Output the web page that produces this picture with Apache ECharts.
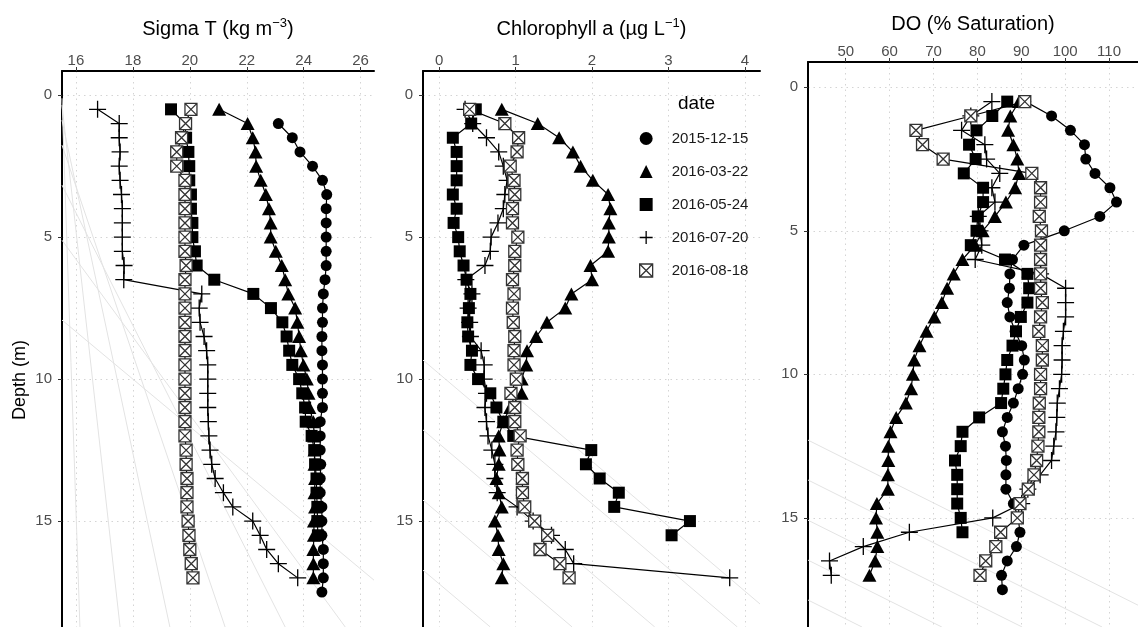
<!DOCTYPE html>
<html>
<head>
<meta charset="utf-8">
<script src="https://cdn.jsdelivr.net/npm/echarts@6/dist/echarts.min.js"></script>
<style>
html,body{margin:0;padding:0;background:#fff;}
#chart{width:1138px;height:627px;}
</style>
</head>
<body>
<div id="chart"></div>
<script>
// ---------------- DATA ----------------
const depth = [0.5,1,1.5,2,2.5,3,3.5,4,4.5,5,5.5,6,6.5,7,7.5,8,8.5,9,9.5,10,10.5,11,11.5,12,12.5,13,13.5,14,14.5,15,15.5,16,16.5,17,17.5];
const dates = ['2015-12-15','2016-03-22','2016-05-24','2016-07-20','2016-08-18'];

const panelTitles = ['Sigma T (kg m{sup|−3})', 'Chlorophyll a (µg L{sup|−1})', 'DO (% Saturation)'];
const xTicks1 = [16,18,20,22,24,26];
const xTicks2 = [0,1,2,3,4];
const xTicks3 = [50,60,70,80,90,100,110];
const yTicks = [0,5,10,15];

// Sigma T
const sigDec = [null,23.11,23.6,23.87,24.31,24.66,24.81,24.79,24.79,24.79,24.79,24.79,24.75,24.69,24.66,24.66,24.64,24.64,24.66,24.66,24.66,24.66,24.58,24.58,24.58,24.6,24.58,24.58,24.64,24.64,24.64,24.69,24.69,24.69,24.64];
const sigMar = [21.03,22.03,22.21,22.31,22.33,22.49,22.67,22.78,22.84,22.84,23.02,23.23,23.35,23.46,23.7,23.78,23.84,23.9,23.99,24.11,24.17,24.2,24.34,24.37,24.38,24.38,24.4,24.38,24.4,24.36,24.36,24.34,24.34,24.34,null];
const sigMay = [19.34,19.83,19.87,19.95,19.98,19.98,20.04,20.04,20.09,20.09,20.18,20.24,20.86,22.23,22.85,23.25,23.4,23.49,23.6,23.84,23.95,24.05,24.07,24.28,24.37,24.4,24.45,24.45,24.48,24.48,24.5,null,null,null,null];
const sigJul = [16.76,17.52,17.52,17.55,17.52,17.55,17.6,17.63,17.63,17.63,17.63,17.69,17.68,20.42,20.33,20.36,20.5,20.59,20.63,20.63,20.63,20.63,20.65,20.67,20.71,20.77,20.89,21.18,21.51,22.21,22.47,22.7,23.11,23.79,null];
const sigAug = [20.04,19.85,19.71,19.54,19.54,19.83,19.83,19.83,19.83,19.83,19.83,19.87,19.83,19.83,19.83,19.83,19.83,19.83,19.83,19.83,19.83,19.83,19.83,19.83,19.87,19.87,19.9,19.9,19.9,19.94,19.97,20.0,20.05,20.11,null];

// Chlorophyll a
const chlDec = [];
const chlMar = [0.82,1.29,1.57,1.75,1.85,2.01,2.21,2.24,2.22,2.22,2.21,1.98,2.0,1.73,1.65,1.41,1.27,1.15,1.14,1.08,1.08,0.93,0.84,0.78,0.79,0.78,0.75,0.78,0.82,0.73,0.77,0.78,0.84,0.82,null];
const chlMay = [0.48,0.42,0.18,0.23,0.23,0.23,0.18,0.23,0.19,0.25,0.27,0.32,0.36,0.41,0.39,0.37,0.38,0.43,0.41,0.51,0.67,0.75,0.84,0.97,1.99,1.92,2.1,2.35,2.29,3.28,3.04,null,null,null,null];
const chlJul = [0.34,0.44,0.62,0.78,0.84,0.89,0.86,0.84,0.77,0.68,0.67,0.6,0.35,0.43,0.38,0.4,0.41,0.55,0.59,0.59,0.62,0.6,0.62,0.64,0.69,0.73,0.73,0.76,1.02,1.23,1.47,1.65,1.76,3.8,null];
const chlAug = [0.40,0.86,1.04,1.02,0.93,0.98,0.99,0.96,0.96,1.03,0.99,0.99,0.96,0.98,0.96,0.97,0.99,0.98,0.98,1.01,0.94,0.99,0.99,1.06,1.02,1.03,1.09,1.09,1.12,1.25,1.42,1.32,1.58,1.7,null];

// DO (% saturation)
const doDec = [91,96.9,101.2,104.4,104.7,106.8,110.2,111.7,107.9,99.8,90.6,88.0,87.4,87.3,86.8,87.4,88.6,90.1,90.7,90.3,89.3,88.2,86.8,85.7,86.4,86.6,86.5,86.5,88.2,89.3,89.7,88.9,86.8,85.5,85.7];
const doMar = [89.5,87.5,87.0,88.2,89.1,89.5,88.6,86.5,84.0,81.2,79.5,76.6,74.6,73.1,71.9,70.2,68.4,66.8,65.6,65.3,64.9,63.7,61.5,60.2,59.7,59.7,59.6,59.6,57.1,56.9,57.2,57.2,56.7,55.4,null];
const doMay = [86.8,83.4,79.8,78.1,79.6,76.9,81.3,81.3,80.1,79.8,78.5,86.3,91.4,91.8,91.4,89.9,88.8,88.0,86.8,86.4,85.9,85.4,80.4,76.6,76.2,74.9,75.4,75.4,75.4,76.2,76.6,null,null,null,null];
const doJul = [83.3,78.5,76.4,81.7,82.1,85.1,83.3,84.0,80.2,80.6,81.0,79.5,94.4,100.1,100.1,100.1,99.6,99.3,99.3,99.2,98.7,98.2,98.1,97.9,97.4,96.9,94.3,91.5,90.1,83.5,64.5,54.0,46.3,46.7,null];
const doAug = [90.8,78.5,66.0,67.5,72.2,92.4,94.4,94.4,94.1,94.6,94.4,94.4,94.4,94.4,94.8,94.4,94.0,94.8,94.8,94.4,94.4,94.1,94.0,94.0,93.8,93.5,92.9,91.6,89.7,89.1,85.3,84.2,81.9,80.6,null];

// faint background guide lines [x1, depth1, x2, depth2]
const guides1 = [[15.51,0.11,16.14,18.73],[15.51,0.35,17.55,18.73],[15.51,0.88,19.30,18.73],[15.51,1.76,21.24,18.73],[15.51,3.17,23.35,18.73],[15.51,5.11,25.46,18.73],[15.51,7.92,26.47,17.08]];
const guides2 = [[-0.21,9.33,3.90,18.73],[-0.21,11.79,2.82,18.73],[-0.21,14.26,1.74,18.73],[-0.21,16.73,0.67,18.73],[1.06,10.74,4.196,17.92]];
const guides3 = [[41.4,12.29,116.6,18.04],[41.4,13.68,108.4,18.8],[41.4,15.08,90.2,18.8],[41.4,16.47,71.9,18.8],[41.4,17.86,53.7,18.8]];

// ---------------- CHART ----------------
const panels = [
  {vals:[sigDec,sigMar,sigMay,sigJul,sigAug], xmin:15.51, xmax:26.47, ticks:xTicks1, guides:guides1,
   grid:{left:62, top:71, width:312, height:556}, ymin:-0.85, ymax:18.73, nameGap:30},
  {vals:[chlDec,chlMar,chlMay,chlJul,chlAug], xmin:-0.21, xmax:4.196, ticks:xTicks2, guides:guides2,
   grid:{left:423, top:71, width:337, height:556}, ymin:-0.85, ymax:18.73, nameGap:30},
  {vals:[doDec,doMar,doMay,doJul,doAug], xmin:41.4, xmax:116.6, ticks:xTicks3, guides:guides3,
   grid:{left:808, top:62, width:330, height:565}, ymin:-0.88, ymax:18.8, nameGap:26}
];

const sym = [
  {symbol:'circle', size:11, style:{color:'#000'}},
  {symbol:'triangle', size:[14,13], style:{color:'#000'}},
  {symbol:'rect', size:12, style:{color:'#000'}},
  {symbol:'path://M0,8H16M8,0V16', size:17, style:{color:'#000', borderColor:'#000', borderWidth:1.3}},
  {symbol:'path://M0,0H12V12H0Z M0,0L12,12 M12,0L0,12', size:12, style:{color:'#fff', borderColor:'#333', borderWidth:1.3}}
];

function pairs(vals){
  const out = [];
  depth.forEach((d,i)=>{ if (vals[i] != null) out.push([vals[i], d]); });
  return out;
}

const grids=[], xAxes=[], yAxes=[], series=[];
const txt = '#4d4d4d';
panels.forEach((p,pi)=>{
  grids.push(Object.assign({outerBoundsMode:'none', containLabel:false}, p.grid));
  xAxes.push({
    type:'value', gridIndex:pi, position:'top', min:p.xmin, max:p.xmax,
    name: panelTitles[pi], nameLocation:'middle', nameGap:p.nameGap,
    nameTextStyle:{fontFamily:'Liberation Sans', fontSize:20, color:'#000', lineHeight:24,
      rich:{sup:{fontFamily:'Liberation Sans', fontSize:13, color:'#000', verticalAlign:'top', lineHeight:24}}},
    axisLine:{show:true, onZero:false, lineStyle:{color:'#000', width:2}},
    axisTick:{show:true, inside:false, length:4, customValues:p.ticks, lineStyle:{color:'#333', width:1}},
    axisLabel:{show:true, customValues:p.ticks, margin:3, fontFamily:'Liberation Sans', fontSize:15, color:txt},
    splitLine:{show:true, lineStyle:{color:'#d4d4d4', type:[1.5,4], width:1}}
  });
  yAxes.push({
    type:'value', gridIndex:pi, inverse:true, min:p.ymin, max:p.ymax,
    axisLine:{show:true, onZero:false, lineStyle:{color:'#000', width:2}},
    axisTick:{show:true, inside:false, length:4, customValues:yTicks, lineStyle:{color:'#333', width:1}},
    axisLabel:{show:true, customValues:yTicks, margin:10, fontFamily:'Liberation Sans', fontSize:15, color:txt},
    splitLine:{show:true, lineStyle:{color:'#d4d4d4', type:[1.5,4], width:1}}
  });
  series.push({
    type:'lines', coordinateSystem:'cartesian2d', xAxisIndex:pi, yAxisIndex:pi, silent:true, z:1,
    lineStyle:{color:'#e3e3e3', width:1, opacity:1},
    data: p.guides.map(g=>({coords:[[g[0],g[1]],[g[2],g[3]]]}))
  });
  p.vals.forEach((v,si)=>{
    series.push({
      type:'line', name:dates[si], xAxisIndex:pi, yAxisIndex:pi,
      data: pairs(v), symbol:sym[si].symbol, symbolSize:sym[si].size, showAllSymbol:true,
      lineStyle:{color:'#000', width:1.2}, itemStyle:sym[si].style, z:3+si,
      emphasis:{disabled:true}, clip:true
    });
  });
});

const chart = echarts.init(document.getElementById('chart'), null, {renderer:'canvas'});
chart.setOption({
  animation:false,
  backgroundColor:'#fff',
  grid:grids, xAxis:xAxes, yAxis:yAxes, series:series,
  title:{text:'date', left:673, top:89, textStyle:{fontFamily:'Liberation Sans', fontSize:19, fontWeight:'normal', color:'#000'}},
  legend:{
    orient:'vertical', left:634, top:126, itemWidth:13, itemHeight:13, itemGap:18,
    selectedMode:false,
    textStyle:{fontFamily:'Liberation Sans', fontSize:15, color:'#1a1a1a', padding:[0,0,0,14]},
    data: dates.map((d,i)=>({name:d, icon: sym[i].symbol, itemStyle: sym[i].style}))
  },
  graphic:[{type:'text', x:20, y:380, rotation:Math.PI/2,
    style:{text:'Depth (m)', fontFamily:'Liberation Sans', fontSize:18, fill:'#000', align:'center', verticalAlign:'middle'}}]
});
</script>
</body>
</html>
